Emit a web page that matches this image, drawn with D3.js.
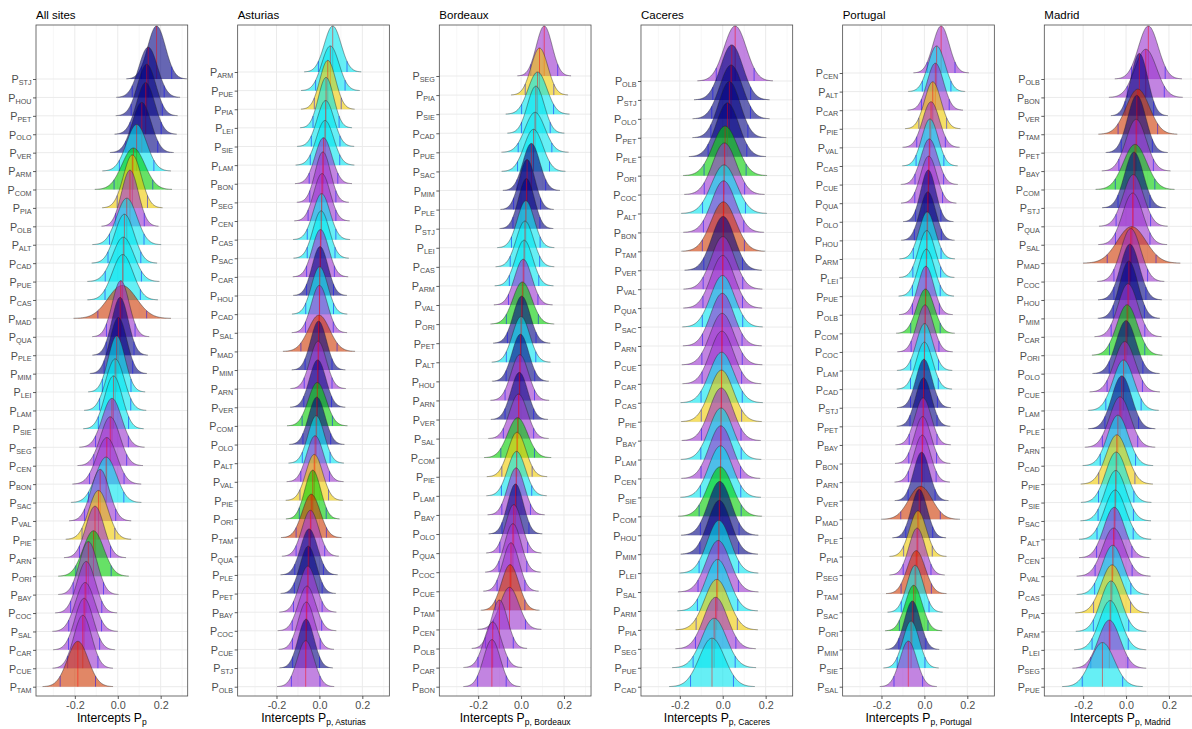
<!DOCTYPE html>
<html><head><meta charset="utf-8">
<script src="https://cdn.jsdelivr.net/npm/d3@7"></script>
<style>body{margin:0;background:#fff}text{font-family:"Liberation Sans",Arial,sans-serif}</style>
</head><body>
<svg id="chart" width="1192" height="729"></svg>
<script>
// ---------- data ----------
const panelTitles = ["All sites","Asturias","Bordeaux","Caceres","Portugal","Madrid"];
const axisSubs = ["p","p, Asturias","p, Bordeaux","p, Caceres","p, Portugal","p, Madrid"];
const xTicks = [-0.2, 0, 0.2];
const xMinorTicks = [-0.3, -0.1, 0.1, 0.3];

const rowsAll = ["STJ","HOU","PET","OLO","VER","ARM","COM","PIA","OLB","ALT","CAD","PUE","CAS","MAD","QUA","PLE","MIM","LEI","LAM","SIE","SEG","CEN","BON","SAC","VAL","PIE","ARN","ORI","BAY","COC","SAL","CAR","CUE","TAM"];
const medAll = [0.181,0.142,0.135,0.130,0.112,0.088,0.073,0.068,0.057,0.042,0.031,0.026,0.023,0.021,0.014,0.011,0.003,-0.005,-0.012,-0.020,-0.027,-0.035,-0.051,-0.054,-0.082,-0.090,-0.106,-0.113,-0.137,-0.147,-0.152,-0.157,-0.163,-0.186];
const sdAll = [0.036,0.038,0.037,0.037,0.038,0.041,0.046,0.036,0.034,0.041,0.039,0.043,0.042,0.058,0.034,0.033,0.034,0.034,0.037,0.036,0.039,0.039,0.041,0.042,0.037,0.039,0.037,0.042,0.036,0.037,0.039,0.037,0.036,0.042];

const rowsAst = ["ARM","PUE","PIA","LEI","SIE","LAM","BON","SEG","CEN","CAS","SAC","CAR","HOU","CAD","SAL","MAD","MIM","ARN","VER","COM","OLO","ALT","VAL","PIE","ORI","TAM","QUA","PLE","PET","BAY","COC","CUE","STJ","OLB"];
const medAst = [0.062,0.051,0.039,0.031,0.029,0.026,0.019,0.016,0.012,0.010,0.008,0.005,0.003,0.001,0.000,-0.002,-0.004,-0.006,-0.008,-0.010,-0.012,-0.015,-0.020,-0.024,-0.031,-0.038,-0.042,-0.048,-0.052,-0.054,-0.058,-0.061,-0.062,-0.064];
const sdAst = [0.034,0.035,0.032,0.031,0.034,0.035,0.034,0.031,0.033,0.034,0.033,0.033,0.032,0.033,0.033,0.043,0.032,0.033,0.033,0.036,0.033,0.033,0.034,0.034,0.032,0.036,0.034,0.034,0.033,0.034,0.035,0.033,0.032,0.034];

const rowsBor = ["SEG","PIA","SIE","CAD","PUE","SAC","MIM","PLE","STJ","LEI","CAS","ARM","VAL","ORI","PET","ALT","HOU","ARN","VER","SAL","COM","PIE","LAM","BAY","OLO","QUA","COC","CUE","TAM","CEN","OLB","CAR","BON"];
const medBor = [0.108,0.086,0.077,0.069,0.065,0.058,0.048,0.028,0.025,0.022,0.018,0.014,0.010,0.006,0.003,0.000,-0.003,-0.006,-0.008,-0.012,-0.016,-0.019,-0.021,-0.023,-0.026,-0.034,-0.038,-0.047,-0.051,-0.054,-0.101,-0.132,-0.136];
const sdBor = [0.032,0.034,0.038,0.034,0.040,0.038,0.034,0.032,0.032,0.034,0.035,0.035,0.035,0.038,0.034,0.035,0.034,0.035,0.034,0.036,0.040,0.036,0.036,0.034,0.032,0.033,0.033,0.033,0.035,0.038,0.033,0.035,0.034];

const rowsCac = ["OLB","STJ","OLO","PET","PLE","ORI","COC","ALT","BON","TAM","VER","VAL","QUA","SAC","ARN","CUE","CAR","CAS","PIE","BAY","LAM","CEN","SIE","COM","HOU","MIM","LEI","SAL","ARM","PIA","SEG","PUE","CAD"];
const medCac = [0.058,0.042,0.039,0.031,0.022,0.011,0.008,0.006,0.004,0.003,0.002,0.001,0.000,-0.001,-0.002,-0.003,-0.004,-0.005,-0.006,-0.007,-0.008,-0.009,-0.010,-0.012,-0.014,-0.016,-0.018,-0.021,-0.024,-0.028,-0.033,-0.040,-0.050];
const sdCac = [0.045,0.045,0.046,0.044,0.046,0.050,0.048,0.051,0.048,0.050,0.046,0.047,0.047,0.048,0.047,0.048,0.047,0.049,0.048,0.047,0.048,0.047,0.048,0.050,0.046,0.046,0.047,0.048,0.048,0.049,0.048,0.050,0.051];

const rowsPor = ["CEN","ALT","CAR","PIE","VAL","CAS","CUE","QUA","OLO","HOU","ARM","LEI","PUE","OLB","COM","COC","LAM","CAD","STJ","PET","BAY","BON","ARN","VER","MAD","PLE","PIA","SEG","TAM","SAC","ORI","MIM","SIE","SAL"];
const medPor = [0.078,0.057,0.051,0.039,0.031,0.026,0.023,0.020,0.018,0.016,0.013,0.011,0.009,0.007,0.005,0.003,0.001,0.000,-0.002,-0.004,-0.006,-0.008,-0.010,-0.013,-0.018,-0.024,-0.030,-0.034,-0.038,-0.043,-0.050,-0.056,-0.062,-0.075];
const sdPor = [0.033,0.034,0.033,0.033,0.034,0.033,0.034,0.033,0.030,0.032,0.033,0.033,0.033,0.032,0.035,0.033,0.033,0.033,0.032,0.032,0.033,0.033,0.033,0.032,0.047,0.032,0.034,0.033,0.036,0.033,0.034,0.032,0.033,0.034];

const rowsMad = ["OLB","BON","VER","TAM","PET","BAY","COM","STJ","QUA","SAL","MAD","COC","HOU","MIM","CAR","ORI","OLO","CUE","LAM","PLE","ARN","CAD","PIE","SIE","SAC","ALT","CEN","VAL","CAS","PIA","ARM","LEI","SEG","PUE"];
const medMad = [0.104,0.092,0.062,0.055,0.050,0.047,0.042,0.037,0.034,0.031,0.026,0.022,0.018,0.013,0.009,0.005,0.000,-0.006,-0.012,-0.020,-0.028,-0.038,-0.043,-0.046,-0.048,-0.051,-0.055,-0.058,-0.062,-0.065,-0.070,-0.074,-0.078,-0.110];
const sdMad = [0.040,0.044,0.034,0.047,0.037,0.041,0.047,0.038,0.041,0.041,0.058,0.040,0.038,0.037,0.040,0.042,0.040,0.042,0.042,0.040,0.042,0.042,0.043,0.042,0.042,0.043,0.042,0.044,0.043,0.044,0.042,0.043,0.044,0.048];

// gene pool of each provenance and gene pool colours
const genePool = {
  MAD:"NA", TAM:"NA",
  PIA:"C", PIE:"C",
  ARN:"CS", BAY:"CS", BON:"CS", CAR:"CS", CEN:"CS", COC:"CS", CUE:"CS", OLB:"CS", QUA:"CS", SAL:"CS", SEG:"CS", VAL:"CS",
  HOU:"FA", MIM:"FA", OLO:"FA", PET:"FA", PLE:"FA", STJ:"FA", VER:"FA",
  ALT:"IA", ARM:"IA", CAD:"IA", CAS:"IA", LAM:"IA", LEI:"IA", PUE:"IA", SAC:"IA", SIE:"IA",
  COM:"SES", ORI:"SES"
};
const poolColors = {NA:"#CD3700", C:"#EEC900", CS:"#9A32CD", FA:"#000080", IA:"#00E5EE", SES:"#00CD00"};

const panels = [
  {rows: rowsAll, med: medAll, sd: sdAll},
  {rows: rowsAst, med: medAst, sd: sdAst},
  {rows: rowsBor, med: medBor, sd: sdBor},
  {rows: rowsCac, med: medCac, sd: sdCac},
  {rows: rowsPor, med: medPor, sd: sdPor},
  {rows: rowsMad, med: medMad, sd: sdMad}
];

// ---------- layout / style ----------
const xDomain = [-0.381, 0.326];
const panelLeft0 = 36, panelStep = 201.66, panelW = 151.7;
const panelTop = 25, panelBottom = 696, lastRowY = 686.7;
const topPeakPx = [53, 46, 50, 55, 47, 53];
const kdeWiden = 1.15;   // kernel smoothing widens the drawn density relative to the draws' sd
const FONT = '"Liberation Sans",Arial,sans-serif';

const svg = d3.select("#chart");
svg.append("rect").attr("width",1192).attr("height",729).attr("fill","#fff");

const pdf = (v, mu, sd) => Math.exp(-0.5*((v-mu)/sd)**2) / (sd*Math.sqrt(2*Math.PI));

panels.forEach((p, pi) => {
  const L = panelLeft0 + panelStep*pi;
  const g = svg.append("g");
  const x = d3.scaleLinear().domain(xDomain).range([L, L+panelW]);
  const H = topPeakPx[pi];
  const y = d3.scalePoint().domain(p.rows).range([panelTop + H + 1, lastRowY]);
  const K = H / pdf(0, 0, p.sd[0]*kdeWiden);

  const clipId = "clip"+pi;
  svg.append("clipPath").attr("id", clipId).append("rect")
     .attr("x", L).attr("y", panelTop).attr("width", panelW).attr("height", panelBottom-panelTop);

  const plot = g.append("g").attr("clip-path", `url(#${clipId})`);
  // grid
  plot.selectAll(".vmin").data(xMinorTicks).join("line")
    .attr("x1", d=>x(d)).attr("x2", d=>x(d)).attr("y1", panelTop).attr("y2", panelBottom)
    .attr("stroke","#f2f2f2").attr("stroke-width",0.6);
  plot.selectAll(".vmaj").data(xTicks).join("line")
    .attr("x1", d=>x(d)).attr("x2", d=>x(d)).attr("y1", panelTop).attr("y2", panelBottom)
    .attr("stroke","#ebebeb").attr("stroke-width",1);
  plot.selectAll(".hmaj").data(p.rows).join("line")
    .attr("x1", L).attr("x2", L+panelW).attr("y1", d=>y(d)).attr("y2", d=>y(d))
    .attr("stroke","#ebebeb").attr("stroke-width",1);

  // ridges, top to bottom so lower ones are in front
  p.rows.forEach((r, i) => {
    const mu = p.med[i], sd = p.sd[i], b = y(r);
    const se = sd*kdeWiden;
    const col = poolColors[genePool[r]];
    const dens = v => K*pdf(v, mu, se);
    const xs = d3.range(0, 181).map(j => mu - 3.4*se + j*(6.8*se/180));
    const pts = xs.map(v => [x(v), b - dens(v)]);
    const areaPts = [[x(xs[0]), b], ...pts, [x(xs[xs.length-1]), b]];
    plot.append("path").attr("d", d3.line()(areaPts) + "Z")
      .attr("fill", col).attr("fill-opacity", 0.6).attr("stroke","none");
    [mu - 1.96*sd, mu + 1.96*sd].forEach(q => {
      plot.append("line").attr("x1", x(q)).attr("x2", x(q))
        .attr("y1", b).attr("y2", b - dens(q))
        .attr("stroke", "#0000ff").attr("stroke-opacity", 0.55).attr("stroke-width", 0.9);
    });
    plot.append("line").attr("x1", x(mu)).attr("x2", x(mu))
      .attr("y1", b).attr("y2", b - dens(mu))
      .attr("stroke", "#ff0000").attr("stroke-opacity", 0.55).attr("stroke-width", 0.9);
    plot.append("path").attr("d", d3.line()(pts))
      .attr("fill","none").attr("stroke","#262626").attr("stroke-opacity",0.75).attr("stroke-width",0.6);
  });

  // border
  g.append("rect").attr("x", L).attr("y", panelTop).attr("width", panelW).attr("height", panelBottom-panelTop)
    .attr("fill","none").attr("stroke","#4d4d4d").attr("stroke-width",0.8);

  // x axis
  const xa = g.append("g").attr("transform", `translate(0,${panelBottom})`)
    .call(d3.axisBottom(x).tickValues(xTicks).tickSize(3).tickPadding(2.5).tickFormat(d => d.toFixed(1)));
  xa.select(".domain").remove();
  xa.selectAll(".tick line").attr("stroke","#333").attr("stroke-width",0.8);
  xa.selectAll(".tick text").attr("fill","#4d4d4d").attr("font-size",10.8).attr("font-family",FONT);

  // y axis
  const ya = g.append("g").attr("transform", `translate(${L},0)`)
    .call(d3.axisLeft(y).tickSize(3).tickPadding(1.5));
  ya.select(".domain").remove();
  ya.selectAll(".tick line").attr("stroke","#333").attr("stroke-width",0.8);
  ya.selectAll(".tick text").each(function(d){
    const t = d3.select(this);
    t.text(null).attr("fill","#4d4d4d").attr("font-size",10.8).attr("dy","0.36em").attr("font-family",FONT);
    t.append("tspan").text("P");
    t.append("tspan").attr("font-size",7.2).attr("dy",1.8).text(d);
  });

  // title
  g.append("text").attr("x", L).attr("y", 19).attr("font-size", 11.5).attr("fill","#000").text(panelTitles[pi]);

  // axis title
  const at = g.append("text").attr("x", L + panelW/2).attr("y", 722).attr("text-anchor","middle")
    .attr("font-size", 12.2).attr("fill","#000");
  at.append("tspan").text("Intercepts P");
  at.append("tspan").attr("font-size", 8.5).attr("dy", 2.8).text(axisSubs[pi]);
});
</script>
</body></html>
